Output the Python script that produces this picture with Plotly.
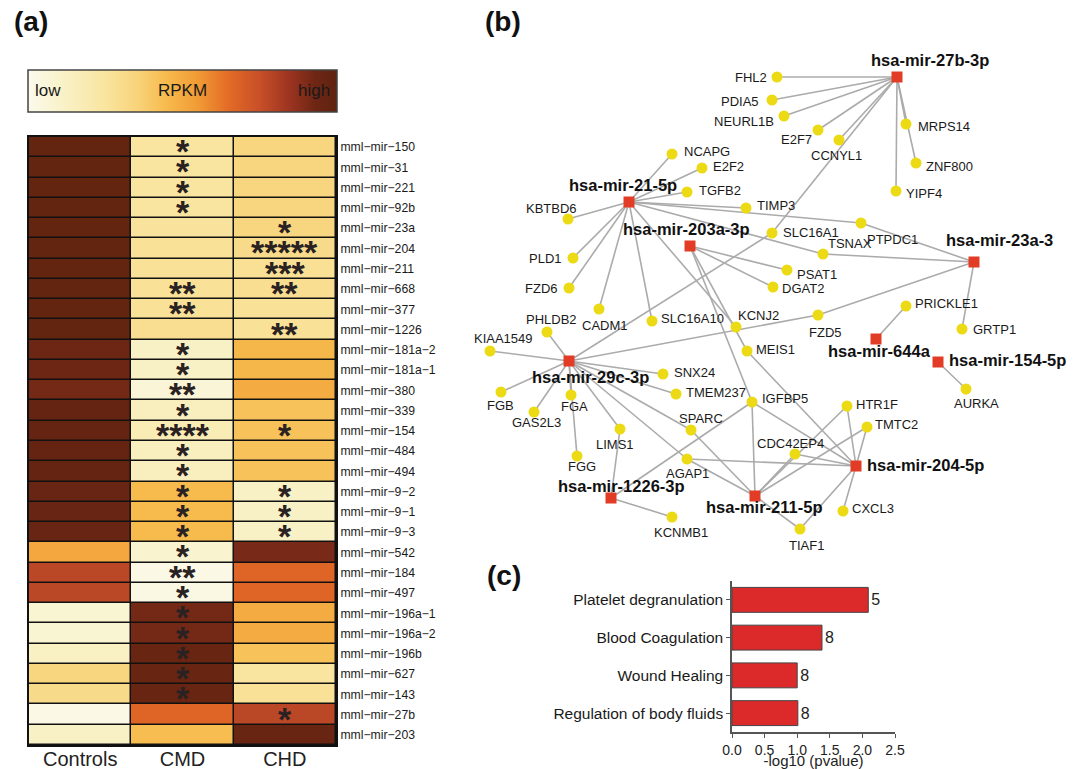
import plotly.graph_objects as go

W, H = 1083, 769

# ---------------- Panel (a) data ----------------
mirs = ["mml−mir−150", "mml−mir−31", "mml−mir−221", "mml−mir−92b", "mml−mir−23a",
        "mml−mir−204", "mml−mir−211", "mml−mir−668", "mml−mir−377", "mml−mir−1226",
        "mml−mir−181a−2", "mml−mir−181a−1", "mml−mir−380", "mml−mir−339", "mml−mir−154",
        "mml−mir−484", "mml−mir−494", "mml−mir−9−2", "mml−mir−9−1", "mml−mir−9−3",
        "mml−mir−542", "mml−mir−184", "mml−mir−497", "mml−mir−196a−1", "mml−mir−196a−2",
        "mml−mir−196b", "mml−mir−627", "mml−mir−143", "mml−mir−27b", "mml−mir−203"]
groups = ["Controls", "CMD", "CHD"]

rpkm_controls = [0.98, 0.98, 0.98, 0.98, 0.98, 0.98, 0.98, 0.98, 0.98, 0.98,
                 0.93, 0.93, 0.92, 0.97, 0.97, 0.97, 0.97, 0.95, 0.95, 0.95,
                 0.51, 0.78, 0.78, 0.08, 0.08, 0.13, 0.34, 0.31, 0.02, 0.12]
rpkm_cmd = [0.25, 0.25, 0.25, 0.25, 0.26, 0.27, 0.27, 0.27, 0.27, 0.29,
            0.12, 0.12, 0.07, 0.15, 0.18, 0.15, 0.15, 0.45, 0.45, 0.45,
            0.09, 0.02, 0.03, 0.92, 0.92, 0.96, 0.96, 0.96, 0.67, 0.44]
rpkm_chd = [0.34, 0.34, 0.34, 0.34, 0.34, 0.31, 0.28, 0.29, 0.27, 0.27,
            0.46, 0.46, 0.50, 0.42, 0.42, 0.42, 0.42, 0.12, 0.12, 0.12,
            0.91, 0.67, 0.67, 0.50, 0.50, 0.42, 0.25, 0.27, 0.78, 0.96]

stars_cmd = ["*", "*", "*", "*", "", "", "", "**", "**", "",
             "*", "*", "**", "*", "****", "*", "*", "*", "*", "*",
             "*", "**", "*", "*", "*", "*", "*", "*", "", ""]
stars_chd = ["", "", "", "", "*", "*****", "***", "**", "", "**",
             "", "", "", "", "*", "", "", "*", "*", "*",
             "", "", "", "", "", "", "", "", "*", ""]

# ---------------- Panel (b) data ----------------
mirna_names = ["hsa-mir-27b-3p", "hsa-mir-21-5p", "hsa-mir-203a-3p", "hsa-mir-23a-3",
               "hsa-mir-644a", "hsa-mir-154-5p", "hsa-mir-29c-3p", "hsa-mir-1226-3p",
               "hsa-mir-211-5p", "hsa-mir-204-5p"]
mirna_x = [897, 629, 690, 974, 876, 938, 569, 611, 755, 856]
mirna_y = [77, 202, 246, 262, 339, 362, 361, 498, 496, 466]
mirna_lx = [930, 623, 686, 999, 879, 947, 590, 621, 764, 865]
mirna_ly = [60, 185, 229, 240, 351, 360, 377, 486, 507, 465]
mirna_la = ["center", "center", "center", "center", "center", "left", "center",
            "center", "center", "left"]

gene_names = ["FHL2", "PDIA5", "NEURL1B", "NCAPG", "E2F2", "TGFB2", "KBTBD6", "TIMP3",
              "E2F7", "CCNYL1", "MRPS14", "ZNF800", "YIPF4", "PTPDC1", "SLC16A1", "TSNAX",
              "PSAT1", "DGAT2", "PLD1", "FZD6", "CADM1", "SLC16A10", "KCNJ2", "FZD5",
              "PHLDB2", "KIAA1549", "SNX24", "TMEM237", "MEIS1", "FGB", "FGA", "IGFBP5",
              "GAS2L3", "LIMS1", "SPARC", "FGG", "AGAP1", "KCNMB1", "HTR1F", "TMTC2",
              "CDC42EP4", "CXCL3", "TIAF1", "PRICKLE1", "GRTP1", "AURKA"]
gene_x = [777, 772, 784, 672, 702, 687, 568, 746, 818, 839, 906, 916, 896, 861, 772, 823,
          787, 773, 573, 569, 599, 652, 736, 818, 547, 490, 663, 676, 747, 501, 571, 752,
          534, 620, 691, 577, 687, 672, 847, 867, 795, 843, 800, 906, 962, 966]
gene_y = [77, 100, 116, 154, 168, 192, 219, 208, 130, 140, 124, 163, 191, 223, 233, 254,
          270, 287, 258, 288, 309, 321, 327, 315, 332, 351, 374, 394, 351, 392, 395, 402,
          412, 429, 430, 456, 459, 517, 406, 427, 454, 511, 529, 306, 329, 389]
gene_lx = [769, 761, 776, 682, 711, 697, 551, 755, 796, 836, 916, 924, 904, 892, 781, 850,
           795, 780, 564, 560, 605, 659, 758, 825, 551, 503, 672, 684, 754, 500, 574, 760,
           536, 615, 701, 582, 687, 681, 854, 873, 790, 850, 806, 913, 971, 976]
gene_ly = [77, 101, 121, 151, 166, 190, 208, 205, 139, 155, 126, 166, 193, 239, 232, 243,
           274, 288, 258, 288, 325, 318, 315, 332, 319, 338, 372, 392, 349, 405, 406, 398,
           422, 444, 418, 466, 473, 532, 404, 424, 443, 508, 545, 303, 329, 403]
gene_la = ["right", "right", "right", "left", "left", "left", "center", "left",
           "center", "center", "left", "left", "left", "center", "left", "center",
           "left", "left", "right", "right", "center", "left", "center", "center",
           "center", "center", "left", "left", "left", "center", "center", "left",
           "center", "center", "center", "center", "center", "center", "left", "left",
           "center", "left", "center", "left", "left", "center"]

edge_src = (["hsa-mir-27b-3p"] * 9 + ["hsa-mir-21-5p"] * 12 + ["hsa-mir-203a-3p"] * 4 +
            ["hsa-mir-23a-3"] * 4 + ["hsa-mir-644a", "hsa-mir-154-5p"] +
            ["hsa-mir-29c-3p"] * 13 + ["hsa-mir-1226-3p"] * 3 +
            ["hsa-mir-211-5p"] * 7 + ["hsa-mir-204-5p"] * 8)
edge_dst = (["FHL2", "PDIA5", "NEURL1B", "E2F7", "CCNYL1", "MRPS14", "ZNF800", "YIPF4", "SLC16A1"] +
            ["NCAPG", "E2F2", "TGFB2", "TIMP3", "KBTBD6", "PLD1", "FZD6", "CADM1", "SLC16A10",
             "PTPDC1", "TSNAX", "KCNJ2"] +
            ["PSAT1", "DGAT2", "MEIS1", "IGFBP5"] +
            ["PTPDC1", "TSNAX", "FZD5", "GRTP1"] +
            ["PRICKLE1", "AURKA"] +
            ["KIAA1549", "PHLDB2", "FGB", "GAS2L3", "FGA", "FGG", "LIMS1", "SNX24", "TMEM237",
             "SPARC", "AGAP1", "SLC16A1", "FZD5"] +
            ["LIMS1", "KCNMB1", "IGFBP5"] +
            ["IGFBP5", "SPARC", "AGAP1", "CDC42EP4", "HTR1F", "TMTC2", "TIAF1"] +
            ["HTR1F", "TMTC2", "CDC42EP4", "CXCL3", "TIAF1", "AGAP1", "MEIS1", "IGFBP5"])

# ---------------- Panel (c) data ----------------
terms = ["Platelet degranulation", "Blood Coagulation", "Wound Healing", "Regulation of body fluids"]
neglog_p = [2.09, 1.38, 1.00, 1.01]
gene_counts = ["5", "8", "8", "8"]

# ---------------- figure ----------------
colorscale = [
    [0.00, "#FBF9EC"], [0.10, "#F9F3CC"], [0.25, "#F9E59F"], [0.35, "#F8D47C"],
    [0.45, "#F7BA4C"], [0.55, "#F19B35"], [0.65, "#E36B26"], [0.75, "#C84F28"],
    [0.85, "#9A3320"], [0.93, "#6E2614"], [1.00, "#5E230F"],
]
FONT = "Liberation Sans, Arial, sans-serif"

fig = go.Figure()

z = [[a, b, c] for a, b, c in zip(rpkm_controls, rpkm_cmd, rpkm_chd)]
fig.add_trace(go.Heatmap(
    z=z, x=list(range(len(groups))), y=list(range(len(mirs))),
    colorscale=colorscale, zmin=0, zmax=1, xgap=1.5, ygap=1.5,
    hoverinfo="skip", xaxis="x", yaxis="y",
    colorbar=dict(orientation="h", x=28 / W, xanchor="left", y=1 - 70 / H, yanchor="top",
                  len=309, lenmode="pixels", thickness=42, thicknessmode="pixels",
                  outlinewidth=1.5, outlinecolor="#444", showticklabels=False, ticks="",
                  xpad=0, ypad=0),
))

annotations = []
for i in range(len(mirs)):
    for j, s in ((1, stars_cmd[i]), (2, stars_chd[i])):
        if s:
            annotations.append(dict(x=j, y=i, xref="x", yref="y", text="<b>" + s + "</b>",
                                    showarrow=False, yshift=-4,
                                    font=dict(size=34, color="#2a2222", family=FONT)))

# Network edges
pos = {n: (x, y) for n, x, y in zip(mirna_names, mirna_x, mirna_y)}
pos.update({n: (x, y) for n, x, y in zip(gene_names, gene_x, gene_y)})
ex, ey = [], []
for s, d in zip(edge_src, edge_dst):
    ex += [pos[s][0], pos[d][0], None]
    ey += [pos[s][1], pos[d][1], None]
fig.add_trace(go.Scatter(x=ex, y=ey, mode="lines", line=dict(color="#ABABAB", width=1.6),
                         hoverinfo="skip", xaxis="x2", yaxis="y2"))
fig.add_trace(go.Scatter(x=gene_x, y=gene_y, mode="markers",
                         marker=dict(size=11, color="#EBDA14", line=dict(width=0)),
                         hoverinfo="skip", xaxis="x2", yaxis="y2"))
fig.add_trace(go.Scatter(x=mirna_x, y=mirna_y, mode="markers",
                         marker=dict(size=11, symbol="square", color="#E23B26", line=dict(width=0)),
                         hoverinfo="skip", xaxis="x2", yaxis="y2"))
for n, lx, ly, la in zip(gene_names, gene_lx, gene_ly, gene_la):
    annotations.append(dict(x=lx, y=ly, xref="x2", yref="y2", text=n, showarrow=False,
                            xanchor=la, yanchor="middle",
                            font=dict(size=13, color="#1a1a1a", family=FONT)))
for n, lx, ly, la in zip(mirna_names, mirna_lx, mirna_ly, mirna_la):
    annotations.append(dict(x=lx, y=ly, xref="x2", yref="y2", text="<b>" + n + "</b>",
                            showarrow=False, xanchor=la, yanchor="middle",
                            font=dict(size=16.5, color="#111", family=FONT)))

# Bar chart
fig.add_trace(go.Bar(x=neglog_p, y=terms, orientation="h", text=gene_counts,
                     textposition="outside", cliponaxis=False, width=0.66,
                     textfont=dict(size=16, color="#222"),
                     marker=dict(color="#DC2A2A", line=dict(color="#444", width=1)),
                     hoverinfo="skip", xaxis="x3", yaxis="y3"))

# Colorbar overlay texts & panel letters
for t, x, xa in (("low", 33, "left"), ("RPKM", 182, "center"), ("high", 332, "right")):
    annotations.append(dict(x=x / W, y=1 - 91 / H, xref="paper", yref="paper", text=t,
                            showarrow=False, xanchor=xa, yanchor="middle",
                            font=dict(size=17, color="#1a1a1a", family=FONT)))
for t, x, y in (("(a)", 31, 22), ("(b)", 503, 22), ("(c)", 504, 575)):
    annotations.append(dict(x=x / W, y=1 - y / H, xref="paper", yref="paper", text="<b>" + t + "</b>",
                            showarrow=False, xanchor="center", yanchor="middle",
                            font=dict(size=28, color="#111", family=FONT)))

fig.update_layout(
    width=W, height=H, margin=dict(l=0, r=0, t=0, b=0, autoexpand=False),
    paper_bgcolor="white", plot_bgcolor="rgba(0,0,0,0)", showlegend=False,
    font=dict(family=FONT, color="#1a1a1a"),
    annotations=annotations,
    shapes=[dict(type="rect", xref="x domain", yref="y domain", x0=0, x1=1, y0=0, y1=1,
                 fillcolor="#111", line=dict(width=0), layer="below")],
    xaxis=dict(domain=[29 / W, 336 / W], anchor="y", range=[-0.5, 2.5], automargin=False,
               tickvals=list(range(len(groups))), ticktext=groups, ticks="",
               tickfont=dict(size=20, color="#222"), showgrid=False, zeroline=False,
               showline=True, linecolor="#111", linewidth=2, mirror=True, ticklabelstandoff=-5),
    yaxis=dict(domain=[1 - 745 / H, 1 - 137 / H], anchor="x", range=[29.5, -0.5], automargin=False,
               tickvals=list(range(len(mirs))), ticktext=mirs, side="right", ticks="",
               tickfont=dict(size=12.2, color="#1a1a1a"), showgrid=False, zeroline=False,
               showline=True, linecolor="#111", linewidth=2, mirror=True, ticklabelstandoff=0),
    xaxis2=dict(domain=[0, 1], anchor="y2", range=[0, W], visible=False, automargin=False),
    yaxis2=dict(domain=[0, 1], anchor="x2", range=[H, 0], visible=False, automargin=False),
    xaxis3=dict(domain=[732 / W, 895 / W], anchor="y3", range=[0, 2.5], automargin=False,
                tickvals=[0, 0.5, 1.0, 1.5, 2.0, 2.5], tickformat=".1f",
                ticks="outside", ticklen=4, tickcolor="#555", tickfont=dict(size=14, color="#222"),
                showline=True, linecolor="#555", linewidth=1.5, showgrid=False, zeroline=False,
                title=dict(text="-log10 (pvalue)", font=dict(size=15, color="#222"), standoff=2)),
    yaxis3=dict(domain=[1 - 732 / H, 1 - 581 / H], anchor="x3", autorange="reversed", automargin=False,
                ticks="outside", ticklen=4, tickcolor="#555", tickfont=dict(size=15.5, color="#1a1a1a"),
                showline=True, linecolor="#555", linewidth=1.5, showgrid=False, zeroline=False),
)

fig.write_html("out.html", config={"displayModeBar": False},
               post_script="document.body.style.margin='0';document.body.style.overflow='hidden';")
